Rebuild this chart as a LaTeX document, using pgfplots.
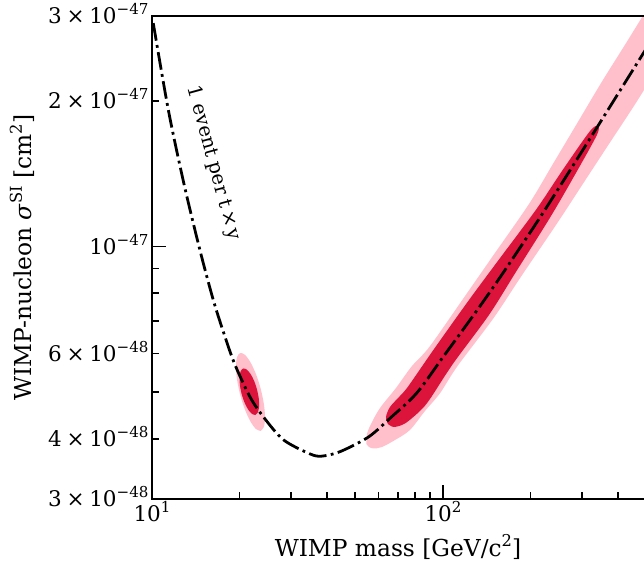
\documentclass[border=0pt]{standalone}
\usepackage{pgfplots}
\pgfplotsset{compat=1.18}
\usepackage{fontspec}
\setmainfont{DejaVu Serif}
\definecolor{mypink}{HTML}{FFC0CB}
\definecolor{mycrimson}{HTML}{DC143C}
\newcommand{\sups}[1]{\raisebox{0.42em}{\scalebox{0.7}{#1}}}
\newcommand{\sci}[2]{#1\hspace{0.22em}×\hspace{0.22em}10\sups{−#2}}

% y values in units of 1e-48 cm^2
\pgfplotstableread{
x y
54.59 3.899
54.81 4.090
56.57 4.289
60.75 4.629
68.94 5.093
78.25 5.656
89.79 6.195
118.26 7.851
147.82 9.524
197.49 12.243
239.18 14.851
289.18 17.996
349.94 21.829
426.48 26.414
526.8 32.47
667.9 40.94
874.1 37.00
689.4 29.35
558.1 23.876
457.9 19.730
373.09 16.344
303.75 13.526
247.65 11.204
185.37 8.657
149.26 7.109
111.89 5.642
97.65 4.966
86.72 4.564
77.02 4.169
68.40 3.974
61.72 3.844
57.93 3.817
55.68 3.844
54.59 3.899
}\bandouter

\pgfplotstableread{
x y
64.71 4.289
63.70 4.435
65.75 4.652
71.16 4.902
76.05 5.139
92.76 6.110
122.55 7.732
154.65 9.344
209.73 11.960
258.03 14.411
319.75 17.322
340.94 17.758
337.46 16.980
281.51 13.938
233.2 11.469
177.21 8.811
144.01 7.219
108.32 5.720
90.22 4.832
83.36 4.564
74.04 4.300
67.86 4.229
64.71 4.289
}\bandinner

\pgfplotstableread{
x y
23.64 4.149
24.24 4.229
24.46 4.421
24.25 4.709
23.66 5.061
22.80 5.429
21.82 5.750
20.88 5.962
20.11 6.017
19.61 5.903
19.43 5.646
19.60 5.301
20.09 4.932
20.85 4.598
21.79 4.341
22.77 4.187
23.64 4.149
}\smallouter

\pgfplotstableread{
x y
22.66 4.479
23.11 4.534
23.33 4.659
23.28 4.839
22.96 5.052
22.44 5.267
21.80 5.448
21.14 5.563
20.58 5.589
20.18 5.522
19.99 5.374
20.04 5.174
20.31 4.955
20.79 4.753
21.40 4.595
22.06 4.500
22.66 4.479
}\smallinner

\pgfplotstableread{
x y
10.1 29.0
11.38 19.17
12.88 13.47
14.63 9.80
16.24 7.75
17.82 6.50
19.28 5.69
21.72 4.88
24.13 4.44
28.27 3.98
34.9 3.72
38.3 3.68
44.3 3.76
55.4 4.03
65.8 4.41
81.2 4.97
100.2 5.91
132.9 7.47
165.5 9.04
221.1 11.76
328.6 17.15
487.8 25.1
520 26.6
}\curve

\begin{document}
\begin{tikzpicture}
\begin{axis}[
  name=ax,
  scale only axis,
  width=354.24pt, height=347.76pt,
  xmode=log, ymode=log,
  xmin=10, xmax=490.7, ymin=3, ymax=30,
  axis x line*=bottom, axis y line*=left,
  axis line style={line width=1.6pt, -, line cap=rect},
  xtick={10,100}, xticklabels={10\sups{1},10\sups{2}},
  minor xtick={20,30,40,50,60,70,80,90,200,300,400},
  ytick={10}, yticklabels={10\sups{−47}},
  minor ytick={5,7,8,9},
  extra y ticks={3,4,6,20,30},
  extra y tick labels={\sci{3}{48},\sci{4}{48},\sci{6}{48},\sci{2}{47},\sci{3}{47}},
  extra y tick style={major tick length=5pt},
  tick align=inside,
  major tick length=10pt, minor tick length=5pt,
  every tick/.append style={black, line width=1.3pt},
  tick label style={font=\fontsize{15.5}{18}\selectfont},
  yticklabel style={anchor=base east, yshift=-5.6pt, xshift=1pt},
  xticklabel style={anchor=base, yshift=-16.3pt},
  xlabel={WIMP mass [GeV/c\sups{2}]},
  ylabel={WIMP-nucleon \textit{σ}\sups{SI} [cm\sups{2}]},
  label style={font=\fontsize{16.8}{19}\selectfont},
  xlabel style={at={(axis description cs:0.5,-0.1195)}, anchor=base},
  ylabel style={at={(axis description cs:-0.2445,0.5)}, anchor=base},
]
\addplot[fill=mypink, draw=none, smooth] table {\bandouter};
\addplot[fill=mypink, draw=none, smooth] table {\smallouter};
\addplot[fill=mycrimson, draw=none, smooth] table {\bandinner};
\addplot[fill=mycrimson, draw=none, smooth] table {\smallinner};
\addplot[black, line width=2pt, smooth, line cap=butt,
  dash pattern=on 12.8pt off 3.2pt on 2pt off 3.2pt] table {\curve};
\node[rotate=-74.7, font=\fontsize{14}{16}\selectfont] at (axis cs:16.24,14.87) {1 event per t\hspace{0.15em}×\hspace{0.15em}y};
\end{axis}
\draw[line width=1.6pt, line cap=rect] (ax.north west) -- (ax.north east);
\pgfresetboundingbox
\path[use as bounding box] ([xshift=-109.44pt,yshift=-49.68pt]ax.south west) rectangle ([yshift=11.52pt]ax.north east);
\end{tikzpicture}
\end{document}
